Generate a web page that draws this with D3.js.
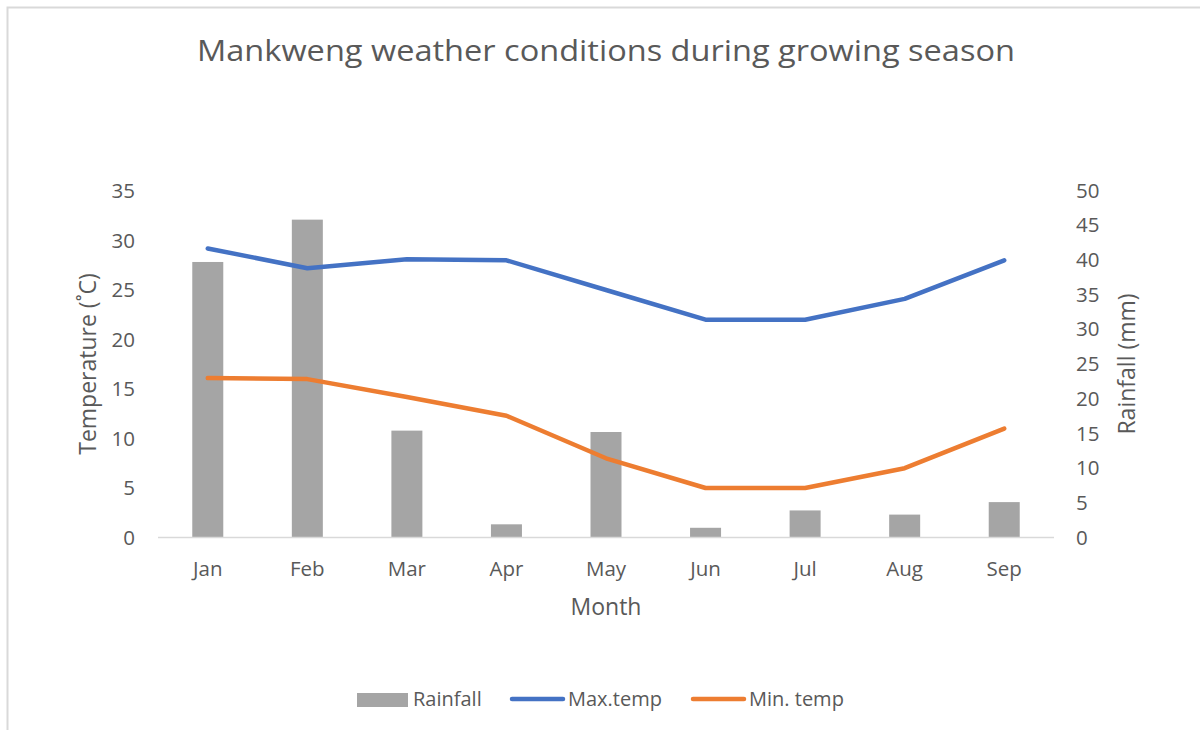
<!DOCTYPE html>
<html>
<head>
<meta charset="utf-8">
<script src="https://cdn.jsdelivr.net/npm/d3@7"></script>
<style>
  body { margin: 0; background: #fff; }
  text { font-family: "Open Sans", "DejaVu Sans", sans-serif; fill: #595959; }
</style>
</head>
<body>
<svg id="chart" width="1200" height="730"></svg>
<script>
// data
const months   = ["Jan", "Feb", "Mar", "Apr", "May", "Jun", "Jul", "Aug", "Sep"];
const rainfall = [39.7, 45.8, 15.4, 1.9, 15.2, 1.4, 3.9, 3.3, 5.1];
const maxTemp  = [29.2, 27.2, 28.1, 28.0, 25.0, 22.0, 22.0, 24.1, 28.0];
const minTemp  = [16.1, 16.0, 14.2, 12.3, 8.0, 5.0, 5.0, 7.0, 11.0];
const tempTicks = [0, 5, 10, 15, 20, 25, 30, 35];
const rainTicks = [0, 5, 10, 15, 20, 25, 30, 35, 40, 45, 50];

const svg = d3.select("#chart");

// chart border (cropped on right/bottom like the original)
svg.append("rect")
    .attr("x", 7.5).attr("y", 7.5)
    .attr("width", 1200).attr("height", 730)
    .attr("fill", "none").attr("stroke", "#D9D9D9").attr("stroke-width", 2);

const x = d3.scaleBand().domain(months).range([158, 1054]);
const yT = d3.scaleLinear().domain([0, 35]).range([537.5, 191]);
const yR = d3.scaleLinear().domain([0, 50]).range([537.5, 190.5]);

// title
svg.append("text")
    .attr("x", 606).attr("y", 61)
    .attr("text-anchor", "middle")
    .attr("font-size", 29)
    .attr("textLength", 818).attr("lengthAdjust", "spacingAndGlyphs")
    .text("Mankweng weather conditions during growing season");

// bars (rainfall, right axis)
const bw = 31;
svg.append("g").selectAll("rect")
    .data(rainfall)
    .enter().append("rect")
    .attr("x", (d, i) => x(months[i]) + x.bandwidth() / 2 - bw / 2)
    .attr("y", d => yR(d))
    .attr("width", bw)
    .attr("height", d => yR(0) - yR(d))
    .attr("fill", "#A5A5A5");

// category axis line
svg.append("line")
    .attr("x1", 158).attr("x2", 1054)
    .attr("y1", yT(0)).attr("y2", yT(0))
    .attr("stroke", "#D9D9D9").attr("stroke-width", 1.5);

// left axis labels
svg.append("g").selectAll("text")
    .data(tempTicks)
    .enter().append("text")
    .attr("x", 135).attr("y", d => yT(d))
    .attr("dy", "0.35em")
    .attr("text-anchor", "end")
    .attr("font-size", 20.5)
    .text(d => d);

// right axis labels
svg.append("g").selectAll("text")
    .data(rainTicks)
    .enter().append("text")
    .attr("x", 1076).attr("y", d => yR(d))
    .attr("dy", "0.35em")
    .attr("font-size", 20.5)
    .text(d => d);

// month labels
svg.append("g").selectAll("text")
    .data(months)
    .enter().append("text")
    .attr("x", d => x(d) + x.bandwidth() / 2)
    .attr("y", 569).attr("dy", "0.35em")
    .attr("text-anchor", "middle")
    .attr("font-size", 20.5)
    .text(d => d);

// axis titles
svg.append("text")
    .attr("x", 606).attr("y", 607).attr("dy", "0.35em")
    .attr("text-anchor", "middle").attr("font-size", 23)
    .text("Month");

svg.append("text")
    .attr("transform", "translate(88,364) rotate(-90)")
    .attr("dy", "0.35em")
    .attr("text-anchor", "middle").attr("font-size", 23)
    .text("Temperature (˚C)");

svg.append("text")
    .attr("transform", "translate(1127,364) rotate(-90)")
    .attr("dy", "0.35em")
    .attr("text-anchor", "middle").attr("font-size", 23)
    .text("Rainfall (mm)");

// lines
const line = d3.line()
    .x((d, i) => x(months[i]) + x.bandwidth() / 2)
    .y(d => yT(d));

svg.append("path").datum(maxTemp)
    .attr("d", line)
    .attr("fill", "none").attr("stroke", "#4472C4")
    .attr("stroke-width", 4.5).attr("stroke-linecap", "round").attr("stroke-linejoin", "round");

svg.append("path").datum(minTemp)
    .attr("d", line)
    .attr("fill", "none").attr("stroke", "#ED7D31")
    .attr("stroke-width", 4.5).attr("stroke-linecap", "round").attr("stroke-linejoin", "round");

// legend
const leg = svg.append("g");
leg.append("rect")
    .attr("x", 357).attr("y", 693).attr("width", 51).attr("height", 14)
    .attr("fill", "#A5A5A5");
leg.append("text").attr("x", 413).attr("y", 699).attr("dy", "0.35em")
    .attr("font-size", 20).text("Rainfall");

leg.append("line")
    .attr("x1", 512).attr("x2", 563).attr("y1", 699).attr("y2", 699)
    .attr("stroke", "#4472C4").attr("stroke-width", 4.5).attr("stroke-linecap", "round");
leg.append("text").attr("x", 568).attr("y", 699).attr("dy", "0.35em")
    .attr("font-size", 20).text("Max.temp");

leg.append("line")
    .attr("x1", 693).attr("x2", 744).attr("y1", 699).attr("y2", 699)
    .attr("stroke", "#ED7D31").attr("stroke-width", 4.5).attr("stroke-linecap", "round");
leg.append("text").attr("x", 749).attr("y", 699).attr("dy", "0.35em")
    .attr("font-size", 20).text("Min. temp");
</script>
</body>
</html>
